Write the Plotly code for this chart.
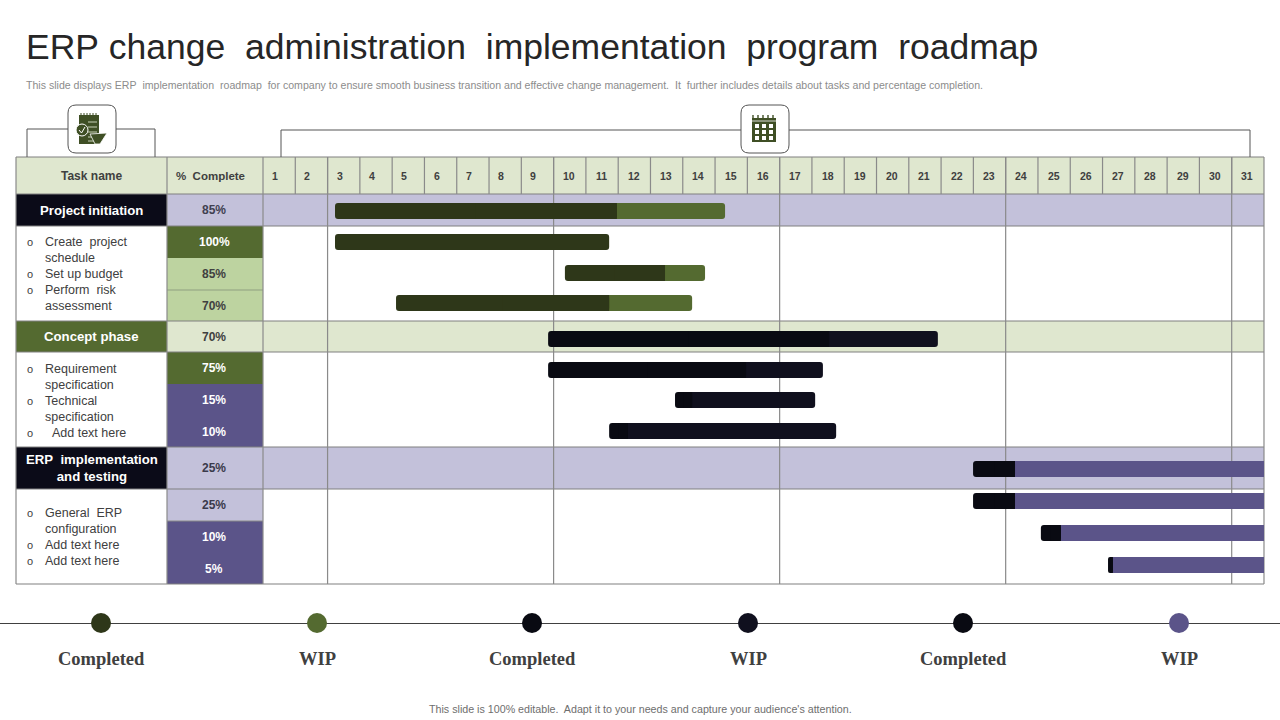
import plotly.graph_objects as go

# ---------- data ----------
title = "ERP\u00a0change\u00a0\u00a0administration\u00a0\u00a0implementation\u00a0\u00a0program\u00a0\u00a0roadmap"
subtitle = ("This slide displays ERP\u00a0 implementation\u00a0 roadmap\u00a0 for company to ensure smooth business transition "
            "and effective change management.\u00a0 It\u00a0 further includes details about tasks and percentage completion.")
footer = "This slide is 100% editable.\u00a0 Adapt it to your needs and capture your audience's attention."
days = list(range(1, 32))
major_days = [0, 2, 9, 16, 23, 30, 31]

row_tops = [194, 226, 258, 290, 321, 352, 384, 416, 447, 489, 521, 553]
row_bots = [226, 258, 290, 321, 352, 384, 416, 447, 489, 521, 553, 584]
pct_labels = ["85%", "100%", "85%", "70%", "70%", "75%", "15%", "10%", "25%", "25%", "10%", "5%"]
pct_fills = ["#c3c1da", "#546a30", "#bdd3a0", "#bdd3a0", "#dfe7cf", "#546a30",
             "#5b5489", "#5b5489", "#c3c1da", "#c3c1da", "#5b5489", "#5b5489"]
pct_text = ["#404050", "#ffffff", "#404040", "#404040", "#404040", "#ffffff",
            "#ffffff", "#ffffff", "#3a3a4a", "#3a3a4a", "#ffffff", "#ffffff"]
band_rows = {0: "#c3c1da", 4: "#dfe7cf", 8: "#c3c1da"}
phase_names = [("Project initiation", 0, "#0b0b18"), ("Concept phase", 4, "#546a30"),
               ("ERP\u00a0 implementation<br>and testing", 8, "#0b0b18")]

bar_y = [211, 242, 273, 303, 339, 370, 400, 431, 469, 501, 533, 565]
bar_start = [2.23, 2.23, 9.35, 4.12, 8.83, 8.83, 12.76, 10.72, 21.99, 21.99, 24.09, 26.17]
bar_split = [10.96, 10.72, 12.45, 10.72, 17.53, 14.96, 13.29, 11.30, 23.29, 23.29, 24.71, 26.32]
bar_end = [14.31, 10.72, 13.69, 13.29, 20.90, 17.34, 17.10, 17.75, 31, 31, 31, 31]
bar_dark = ["#2e3719"] * 4 + ["#090a12"] * 8
bar_light = ["#546a30"] * 4 + ["#10101e"] * 4 + ["#5b5489"] * 4

task_lines = [
    (241, "o", "Create\u00a0 project"), (257, "", "schedule"), (273, "o", "Set up budget"),
    (289, "o", "Perform\u00a0 risk"), (305, "", "assessment"),
    (368, "o", "Requirement"), (384, "", "specification"), (400, "o", "Technical"),
    (416, "", "specification"), (432, "o", "\u00a0\u00a0Add text here"),
    (512, "o", "General\u00a0 ERP"), (528, "", "configuration"), (544, "o", "Add text here"),
    (560, "o", "Add text here"),
]
legend_px = [101, 317, 532, 748, 963, 1179]
legend_labels = ["Completed", "WIP", "Completed", "WIP", "Completed", "WIP"]
legend_colors = ["#2e3719", "#546a30", "#090a12", "#10101e", "#090a12", "#5b5489"]

# ---------- layout helpers ----------
X0, DAY = 263.0, 32.29
def px(v):
    return (v - X0) / DAY

GRID = "#8a8a8a"
TEXT = "#404040"
SANS = "Liberation Sans"
shapes, notes = [], []

def rect(x0, y0, x1, y1, fill, line=None, w=1):
    shapes.append(dict(type="rect", xref="x", yref="y", x0=px(x0), x1=px(x1), y0=y0, y1=y1,
                       fillcolor=fill, line=dict(color=line or fill, width=w if line else 0), layer="below"))

def seg(x0, y0, x1, y1, color=GRID, w=1.2):
    shapes.append(dict(type="line", xref="x", yref="y", x0=px(x0), x1=px(x1), y0=y0, y1=y1,
                       line=dict(color=color, width=w), layer="below"))

def note(x, y, s, size=12, color=TEXT, bold=False, anchor="center", family=SANS):
    if bold:
        s = f"<b>{s}</b>"
    notes.append(dict(x=px(x), y=y, xref="x", yref="y", text=s, showarrow=False, xanchor=anchor, yanchor="middle",
                      align="center", borderpad=0, borderwidth=0, font=dict(size=size, color=color, family=family)))

def rounded(x0, y0, x1, y1, r, fill="#ffffff", line="#555555", w=1):
    a, b, c, d = px(x0), px(x1), y0, y1
    rx = r / DAY
    path = (f"M {a+rx} {c} L {b-rx} {c} Q {b} {c} {b} {c+r} L {b} {d-r} Q {b} {d} {b-rx} {d} "
            f"L {a+rx} {d} Q {a} {d} {a} {d-r} L {a} {c+r} Q {a} {c} {a+rx} {c} Z")
    shapes.append(dict(type="path", xref="x", yref="y", path=path, fillcolor=fill, line=dict(color=line, width=w), layer="below"))

# ---------- table ----------
rect(16, 157, 1264, 194, "#dfe7cf")
for i, fill in band_rows.items():
    rect(263, row_tops[i], 1264, row_bots[i], fill)
for t, b, f in zip(row_tops, row_bots, pct_fills):
    rect(167, t, 263, b, f)
for name, i, f in phase_names:
    rect(16, row_tops[i], 167, row_bots[i], f)

for y in [157, 194, 226, 321, 352, 447, 489, 584]:
    seg(16, y, 1264, y, "#808080")
seg(167, 290, 263, 290, "#8f9f80", 1)
seg(167, 521, 263, 521, "#8a8a8a", 1)
for x in [16, 167]:
    seg(x, 157, x, 584)
for d in major_days:
    seg(X0 + d * DAY, 157, X0 + d * DAY, 584)
for d in range(1, 31):
    seg(X0 + d * DAY, 157, X0 + d * DAY, 194)

# ---------- header brackets and icons ----------
seg(27, 157, 27, 129, "#555555", 1); seg(27, 129, 68, 129, "#555555", 1)
seg(116, 129, 155, 129, "#555555", 1); seg(155, 129, 155, 157, "#555555", 1)
seg(281, 157, 281, 130, "#555555", 1); seg(281, 130, 741, 130, "#555555", 1)
seg(789, 130, 1250, 130, "#555555", 1); seg(1250, 130, 1250, 157, "#555555", 1)
rounded(68, 105, 116, 153, 8)
rounded(741, 105, 789, 153, 8)
ICON = "#3f4f25"
rect(79, 115, 99, 144, ICON)
for x in range(81, 99, 3):
    seg(x, 113, x, 116, ICON, 1)
for y in [122, 127, 132, 137, 141]:
    seg(88, y, 97, y, "#c9d2b8", 1)
shapes.append(dict(type="circle", xref="x", yref="y", x0=px(76), x1=px(88), y0=124, y1=136,
                   fillcolor=ICON, line=dict(color="#ffffff", width=1), layer="below"))
seg(79, 130, 81.5, 133, "#ffffff", 1); seg(81.5, 133, 85, 127, "#ffffff", 1)
shapes.append(dict(type="path", xref="x", yref="y",
                   path=f"M {px(90)} 134 L {px(107)} 133 L {px(100)} 144 L {px(95)} 144 Z",
                   fillcolor=ICON, line=dict(color="#ffffff", width=0.8), layer="below"))
rect(752, 118, 776, 142, ICON)
for x in range(753, 778, 5):
    seg(x, 115, x, 120, ICON, 1.4)
seg(752, 121, 776, 121, "#ffffff", 0.8)
for cx in (755, 762, 769):
    for cy in (124, 130, 136):
        rect(cx, cy, cx + 4, cy + 4, "#ffffff")

# ---------- texts ----------
note(26, 47, title, 35.5, "#262626", anchor="left")
note(26, 85, subtitle, 10.58, "#8c8c8c", anchor="left")
note(640, 709, footer, 10.7, "#6e6e6e")
note(91, 176, "Task name", 12, TEXT, bold=True)
note(210, 176, "%\u00a0 Complete", 11.5, TEXT, bold=True)
for d in days:
    shift = -4 if d < 10 else -0.5
    note(X0 + (d - 0.5) * DAY + shift, 175.5, str(d), 10.5, TEXT, bold=True)
for t, b, s, c in zip(row_tops, row_bots, pct_labels, pct_text):
    note(214, (t + b) / 2, s, 12, c, bold=True)
for name, i, f in phase_names:
    note(91.5, (row_tops[i] + row_bots[i]) / 2, name, 13.2, "#ffffff", bold=True)
for y, bullet, s in task_lines:
    if bullet:
        note(30, y + 1, bullet, 11, TEXT)
    note(45, y + 0.5, s, 12.5, TEXT, anchor="left")
for x, s in zip(legend_px, legend_labels):
    note(x, 659, s, 18.5, "#404040", bold=True, family="Liberation Serif")
seg(0, 623.5, 1280, 623.5, "#404040", 1)

# ---------- traces ----------
fig = go.Figure()
bar_h = 16

def bar(y, a, b, color, radius):
    fig.add_trace(go.Bar(orientation="h", y=[y], base=[a], x=[b - a], width=bar_h,
                         marker=dict(color=color, line=dict(width=0), cornerradius=radius),
                         showlegend=False, hoverinfo="skip"))

for i, y in enumerate(bar_y):
    s, m, e = bar_start[i], bar_split[i], bar_end[i]
    mid = (s + m) / 2
    if e > m:
        bar(y, mid, e, bar_light[i], 0 if e >= 31 else 3)
    bar(y, s, m, bar_dark[i], 3)
    if e > m:
        bar(y, mid, m, bar_dark[i], 0)
fig.add_trace(go.Scatter(x=[px(v) for v in legend_px], y=[623] * len(legend_px), mode="markers",
                         marker=dict(size=20, color=legend_colors, line=dict(width=0)),
                         showlegend=False, hoverinfo="skip"))

fig.update_layout(
    width=1280, height=720, margin=dict(l=0, r=0, t=0, b=0), autosize=False,
    paper_bgcolor="#ffffff", plot_bgcolor="#ffffff", barmode="overlay", showlegend=False,
    xaxis=dict(range=[px(0), px(1280)], visible=False, fixedrange=True),
    yaxis=dict(range=[720, 0], visible=False, fixedrange=True),
    shapes=shapes, annotations=notes,
)
fig.write_html("out.html", config={"displayModeBar": False},
               post_script="document.body.style.margin='0';document.body.style.overflow='hidden';")
